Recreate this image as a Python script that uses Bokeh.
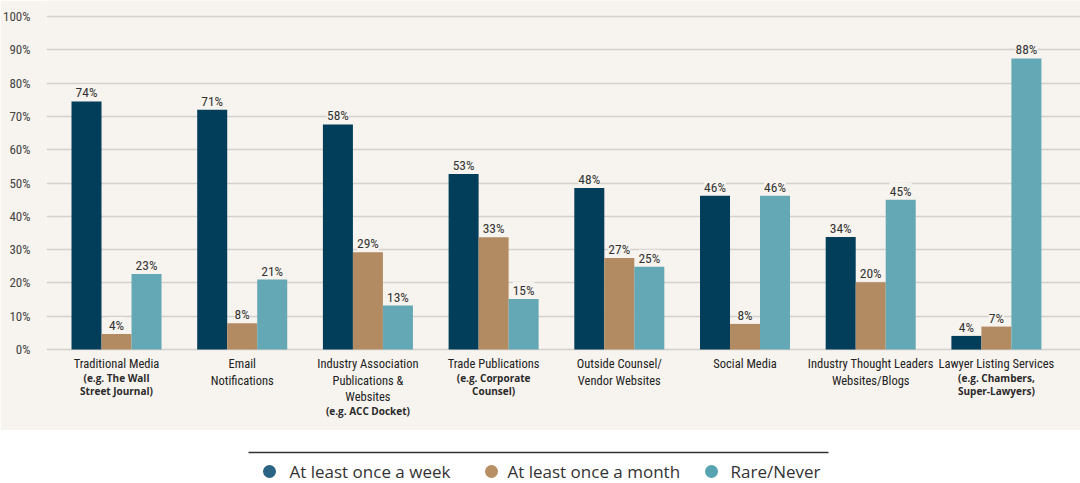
from bokeh.plotting import figure
from bokeh.models import (ColumnDataSource, Range1d, LinearAxis, FixedTicker,
                          PrintfTickFormatter, LabelSet)
from bokeh.layouts import column
from bokeh.core.properties import value
from bokeh.embed import file_html
from bokeh.resources import INLINE

# ---------------- data ----------------
categories = ["Traditional Media", "Email Notifications", "Industry Association",
              "Trade Publications", "Outside Counsel", "Social Media",
              "Industry Thought Leaders", "Lawyer Listing Services"]
title_lines = [["Traditional Media"], ["Email", "Notifications"],
               ["Industry Association", "Publications &", "Websites"],
               ["Trade Publications"], ["Outside Counsel/", "Vendor Websites"],
               ["Social Media"], ["Industry Thought Leaders", "Websites/Blogs"],
               ["Lawyer Listing Services"]]
sub_lines = [["(e.g. The Wall", "Street Journal)"], [], ["(e.g. ACC Docket)"],
             ["(e.g. Corporate", "Counsel)"], [], [], [],
             ["(e.g. Chambers,", "Super-Lawyers)"]]

series = ["At least once a week", "At least once a month", "Rare/Never"]
weekly = [74.5, 72.0, 67.6, 52.7, 48.5, 46.2, 33.8, 4.1]
monthly = [4.7, 7.9, 29.2, 33.7, 27.5, 7.7, 20.2, 6.9]
rare = [22.7, 21.0, 13.2, 15.2, 24.9, 46.2, 45.0, 87.4]
weekly_lbl = ["74%", "71%", "58%", "53%", "48%", "46%", "34%", "4%"]
monthly_lbl = ["4%", "8%", "29%", "33%", "27%", "8%", "20%", "7%"]
rare_lbl = ["23%", "21%", "13%", "15%", "25%", "46%", "45%", "88%"]
y_ticks = [0, 10, 20, 30, 40, 50, 60, 70, 80, 90, 100]

colors = ["#023d5a", "#b38b63", "#63a8b4"]
legend_colors = ["#2a6383", "#b88f65", "#56a3b1"]
BEIGE = "#f7f3ee"
COND = "Roboto Condensed, DejaVu Sans Condensed, Liberation Sans Narrow, Roboto"

W = 1080
H_MAIN = 430
H_LEG = 53
LEFT = 46

p = figure(width=W, height=H_MAIN, output_backend="svg", toolbar_location=None,
           x_range=Range1d(-0.557, 7.669), y_range=Range1d(-24.3, 104.8),
           min_border_left=LEFT, min_border_right=0, min_border_top=0,
           min_border_bottom=0, x_axis_location=None, y_axis_location=None)
p.background_fill_color = BEIGE
p.border_fill_color = BEIGE
p.outline_line_color = None
p.xgrid.visible = False

yaxis = LinearAxis(ticker=FixedTicker(ticks=y_ticks),
                   formatter=PrintfTickFormatter(format="%d%%"))
yaxis.axis_line_color = None
yaxis.major_tick_line_color = None
yaxis.minor_tick_line_color = None
yaxis.major_label_standoff = 10
yaxis.major_label_text_font = COND
yaxis.major_label_text_font_size = "13px"
yaxis.major_label_text_color = "#444444"
p.add_layout(yaxis, "left")
p.ygrid.ticker = FixedTicker(ticks=y_ticks)
p.ygrid.grid_line_color = "#d3d1ce"
p.ygrid.grid_line_width = 1.5

n = len(categories)
xs = list(range(n))
bw = 0.2387
px_per_unit = H_MAIN / (104.8 + 24.3)

for k, (vals, lbls) in enumerate([(weekly, weekly_lbl), (monthly, monthly_lbl), (rare, rare_lbl)]):
    off = (k - 1) * bw
    src = ColumnDataSource(dict(x=[x + off for x in xs], top=vals, lbl=lbls))
    p.vbar(x="x", top="top", bottom=0, width=bw, source=src,
           fill_color=colors[k], line_color=None)
    labels = LabelSet(x="x", y="top", text="lbl", source=src, text_align="center",
                      text_baseline="bottom", y_offset=1, text_font=value(COND),
                      text_font_size="13.5px", text_color="#333333",
                      background_fill_color=BEIGE)
    p.add_layout(labels)

# category labels
tx, ty, tt = [], [], []
sx, sy, st = [], [], []
for i in range(n):
    nl = len(title_lines[i])
    for j, line in enumerate(title_lines[i]):
        tx.append(i)
        ty.append(-(14 + 16.5 * j) / px_per_unit)
        tt.append(line)
    for j, line in enumerate(sub_lines[i]):
        sx.append(i)
        sy.append(-(14 + 16.5 * (nl - 1) + 14 + 13 * j) / px_per_unit)
        st.append(line)
p.text(x=tx, y=ty, text=tt, text_align="center", text_baseline="middle",
       text_font=value(COND), text_font_size="12.5px", text_color="#222222")
p.text(x=sx, y=sy, text=st, text_align="center", text_baseline="middle",
       text_font=value("Open Sans"), text_font_size="10px", text_font_style="bold",
       text_color="#2a2a2a")

# legend figure (frame aligned with main plot frame by the column layout)
lg = figure(width=W, height=H_LEG, output_backend="svg", toolbar_location=None,
            x_range=Range1d(LEFT, W), y_range=Range1d(H_LEG, 0),
            min_border_left=LEFT, min_border_right=0, min_border_top=0,
            min_border_bottom=0, x_axis_location=None, y_axis_location=None)
lg.background_fill_color = "white"
lg.border_fill_color = "white"
lg.outline_line_color = None
lg.grid.visible = False
lg.segment(x0=[248], y0=[22], x1=[828], y1=[22], line_color="#333333", line_width=1.5)
dot_x = [269, 491, 711]
lg.scatter(x=dot_x, y=[41, 41, 41], size=13, fill_color=legend_colors, line_color=None)
lg.text(x=[289, 507, 730], y=[41, 41, 41], text=series, text_align="left",
        text_baseline="middle", text_font=value("Open Sans"), text_font_size="17px",
        text_color="#333333")

layout = column(p, lg, spacing=0)
open("out.html", "w").write(file_html(layout, INLINE))
